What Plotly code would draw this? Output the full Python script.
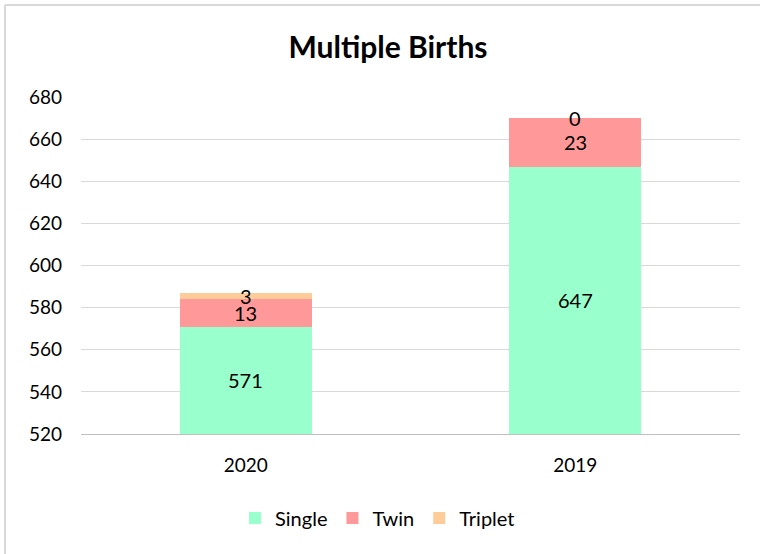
import plotly.graph_objects as go

categories = ["2020", "2019"]
single = [571, 647]
twin = [13, 23]
triplet = [3, 0]
y_ticks = [520, 540, 560, 580, 600, 620, 640, 660, 680]
y_range = [520, 680]

font = "Lato, 'Open Sans', sans-serif"
colors = {"Single": "#99FFCC", "Twin": "#FF9999", "Triplet": "#FFCC99"}

fig = go.Figure()
series = [("Single", single), ("Twin", twin), ("Triplet", triplet)]
for name, vals in series:
    fig.add_trace(go.Bar(
        name=name, x=categories, y=vals, marker_color=colors[name],
        marker_line_width=0, width=0.4, hoverinfo="x+y+name",
    ))

# data labels centred in the visible part of each segment (category axis: index positions)
base = [0 for _ in categories]
for name, vals in series:
    for i, c in enumerate(categories):
        lo = max(base[i], y_range[0])
        hi = base[i] + vals[i]
        fig.add_annotation(x=i, y=(lo + hi) / 2, text=str(vals[i]),
                           showarrow=False, font=dict(size=20, color="#000000", family=font),
                           xref="x", yref="y")
        base[i] += vals[i]

L, R, T, B = 81, 20, 97, 120
W, H = 760, 554
pw, ph = W - L - R, H - T - B
bx, by = 5, 5
fig.add_shape(type="line", xref="paper", yref="paper",
              x0=(bx - L) / pw, x1=(W - L) / pw, y0=1 + (T - by) / ph, y1=1 + (T - by) / ph,
              line=dict(color="#D9D9D9", width=2))
fig.add_shape(type="line", xref="paper", yref="paper",
              x0=(bx - L) / pw, x1=(bx - L) / pw, y0=1 + (T - by) / ph, y1=-B / ph,
              line=dict(color="#D9D9D9", width=2))

fig.update_layout(
    barmode="stack",
    width=W, height=H,
    margin=dict(l=L, r=R, t=T, b=B),
    paper_bgcolor="white", plot_bgcolor="white",
    font=dict(family=font, size=19, color="#000000"),
    title=dict(text="<b>Multiple Births</b>", x=388 / W, xanchor="center",
               y=1 - 47 / H, yanchor="middle",
               font=dict(size=30, family=font, color="#000000")),
    legend=dict(orientation="h", x=0.45, xanchor="center", y=-(518 - (H - B)) / ph, yanchor="middle",
                font=dict(size=20, family=font), traceorder="normal"),
)
fig.update_yaxes(range=y_range, tickvals=y_ticks, showgrid=True, gridcolor="#D9D9D9", gridwidth=1,
                 zeroline=False, showline=False, ticks="", tickfont=dict(size=19), ticklabelstandoff=18)
fig.update_xaxes(type="category", range=[-0.5, 1.5], showline=True, linecolor="#BFBFBF", linewidth=1,
                 ticks="", tickfont=dict(size=19), ticklabelstandoff=14)

fig.write_html("out.html", config={"displayModeBar": False},
               post_script="document.body.style.margin='0';document.body.style.overflow='hidden';")
